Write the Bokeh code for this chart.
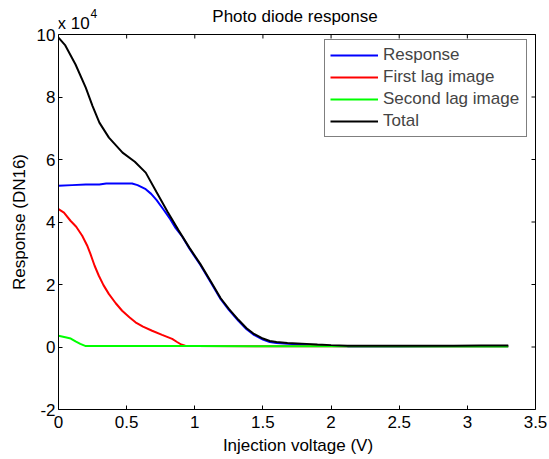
import math
from bokeh.plotting import figure
from bokeh.models import (FixedTicker, Range1d, Legend, LegendItem,
                          Label, CustomJSTickFormatter)
from bokeh.embed import file_html
from bokeh.resources import INLINE

# ---------------- data ----------------
x_total = [0.0, 0.05, 0.125, 0.2, 0.25, 0.3, 0.37, 0.47, 0.56, 0.64, 0.72, 0.8,
           0.88, 0.96, 1.04, 1.12, 1.19, 1.25, 1.32, 1.38, 1.43, 1.5, 1.55, 1.6,
           1.68, 1.75, 1.82, 1.9, 2.0, 2.12, 2.3, 2.5, 2.7, 2.9, 3.1, 3.3]
y_total = [99000, 96500, 90400, 83000, 77100, 71800, 67000, 62200, 59300, 55800,
           49500, 43300, 37400, 31800, 26600, 20800, 15600, 12200, 8700, 6000,
           4300, 2700, 1900, 1600, 1300, 1150, 1000, 800, 600, 400, 400, 420,
           430, 440, 450, 450]

x_resp = [0.0, 0.1, 0.2, 0.3, 0.35, 0.45, 0.54, 0.58, 0.64, 0.68, 0.72, 0.77,
          0.82, 0.86, 0.91, 0.96, 1.04, 1.12, 1.19, 1.25, 1.32, 1.38, 1.43, 1.5,
          1.55, 1.6, 1.68, 1.75, 1.82, 1.9, 2.0, 2.12, 2.5, 2.9, 3.3]
y_resp = [51600, 51800, 52000, 52000, 52300, 52300, 52300, 51800, 50500, 49000,
          47000, 44000, 40900, 38000, 35200, 31500, 26300, 20500, 15300, 11900,
          8400, 5700, 4000, 2400, 1600, 1300, 1000, 900, 700, 500, 350, 200, 200,
          220, 250]

x_lag1 = [0.0, 0.04, 0.088, 0.13, 0.174, 0.21, 0.235, 0.265, 0.296, 0.33, 0.369,
          0.42, 0.467, 0.52, 0.565, 0.62, 0.687, 0.76, 0.834, 0.87, 0.9, 0.93,
          1.0, 2.0, 3.3]
y_lag1 = [44100, 43000, 40400, 38500, 35600, 32500, 29700, 26000, 22800, 19800,
          17000, 14000, 11600, 9500, 7900, 6500, 5200, 3900, 2600, 1600, 800, 400,
          300, 250, 250]

x_lag2 = [0.0, 0.05, 0.09, 0.125, 0.16, 0.2, 1.0, 2.0, 3.3]
y_lag2 = [3600, 3100, 2700, 1800, 1000, 300, 300, 250, 200]

x_ticks = [0, 0.5, 1, 1.5, 2, 2.5, 3, 3.5]
x_tick_labels = ["0", "0.5", "1", "1.5", "2", "2.5", "3", "3.5"]
y_ticks = [-20000, 0, 20000, 40000, 60000, 80000, 100000]
x_min, x_max = 0, 3.5
y_min, y_max = -20000, 100000

title_text = "Photo diode response"
x_label = "Injection voltage (V)"
y_label = "Response (DN16)"
series_names = ["Response", "First lag image", "Second lag image", "Total"]
scale_text = "x 10"
scale_exp = "4"

FONT = "Liberation Sans"
FS = "17px"
TICK = 4  # px

# ---------------- layout ----------------
W, H = 549, 459
BL, BR, BB = 58, 12, 50          # frame borders (frame reaches the canvas top)
BOX_TOP = 34                     # axes box top, px from canvas top
EXTRA_R = 2                      # px of frame right of the axes box
box_w = W - BL - BR - EXTRA_R
box_h = H - BB - BOX_TOP
ux = (x_max - x_min) / box_w     # data per px
uy = (y_max - y_min) / box_h

p = figure(width=W, height=H, output_backend="svg", toolbar_location=None,
           title_location=None,
           x_range=Range1d(x_min, x_max + EXTRA_R * ux),
           y_range=Range1d(y_min, y_max + BOX_TOP * uy),
           min_border_left=BL, min_border_right=BR, min_border_top=0,
           min_border_bottom=BB)
p.background_fill_color = "white"
p.border_fill_color = "white"
p.outline_line_color = None
p.grid.visible = False

xa = p.xaxis[0]
xa.ticker = FixedTicker(ticks=x_ticks)
xa.bounds = (x_min, x_max)
xa.major_label_overrides = {t: l for t, l in zip(x_ticks, x_tick_labels)}
xa.axis_label = x_label
xa.major_label_standoff = 6
xa.axis_label_standoff = 5

ya = p.yaxis[0]
ya.ticker = FixedTicker(ticks=y_ticks)
ya.bounds = (y_min, y_max)
ya.formatter = CustomJSTickFormatter(code="return (tick/1e4).toFixed(0);")
ya.major_label_standoff = 3

for ax in (xa, ya):
    ax.major_tick_in = TICK
    ax.major_tick_out = 0
    ax.minor_tick_line_color = None
    ax.axis_line_color = "black"
    ax.major_tick_line_color = "black"
    ax.major_label_text_font = FONT
    ax.major_label_text_font_size = FS
    ax.major_label_text_color = "black"
    ax.axis_label_text_font = FONT
    ax.axis_label_text_font_size = FS
    ax.axis_label_text_font_style = "normal"
    ax.axis_label_text_color = "black"

# top and right edges of the axes box, with inward ticks
p.line([x_min, x_max], [y_max, y_max], line_color="black", line_width=1)
p.line([x_max, x_max], [y_min, y_max], line_color="black", line_width=1)
p.segment(x0=x_ticks, y0=[y_max] * len(x_ticks), x1=x_ticks,
          y1=[y_max - TICK * uy] * len(x_ticks), line_color="black", line_width=1)
p.segment(x0=[x_max] * len(y_ticks), y0=y_ticks, x1=[x_max - TICK * ux] * len(y_ticks),
          y1=y_ticks, line_color="black", line_width=1)

lw = 2
r1 = p.line(x_resp, y_resp, line_color="#0000ff", line_width=lw)
r2 = p.line(x_lag1, y_lag1, line_color="#ff0000", line_width=lw)
r3 = p.line(x_lag2, y_lag2, line_color="#00ff00", line_width=lw)
r4 = p.line(x_total, y_total, line_color="black", line_width=lw)

legend = Legend(items=[LegendItem(label=n, renderers=[r]) for n, r in
                       zip(series_names, [r1, r2, r3, r4])],
                location=(266, 272), padding=5, spacing=2,
                label_text_font=FONT, label_text_font_size=FS,
                glyph_width=48, glyph_height=20, label_height=20, label_width=138,
                label_standoff=5, border_line_color="black", border_line_width=1,
                background_fill_alpha=1)
p.add_layout(legend, "center")

txt = dict(text_font=FONT, text_color="black", text_baseline="alphabetic")
p.add_layout(Label(x=(x_min + x_max) / 2, y=y_max, text=title_text,
                   text_align="center", x_offset=-2, y_offset=18,
                   text_font_size=FS, **txt))
p.add_layout(Label(x=x_min, y=y_max, text=scale_text, text_align="left",
                   x_offset=-1, y_offset=11, text_font_size=FS, **txt))
p.add_layout(Label(x=x_min, y=y_max, text=scale_exp, text_align="left",
                   x_offset=32, y_offset=21, text_font_size="12px", **txt))
# y-axis title in the left panel, centred on the axes box
p.add_layout(Label(x=x_min, y=(y_min + y_max) / 2, text=y_label,
                   text_align="center", text_baseline="middle", angle=math.pi / 2,
                   x_offset=-39, text_font=FONT, text_color="black",
                   text_font_size=FS), "left")

open("out.html", "w").write(file_html(p, INLINE))
